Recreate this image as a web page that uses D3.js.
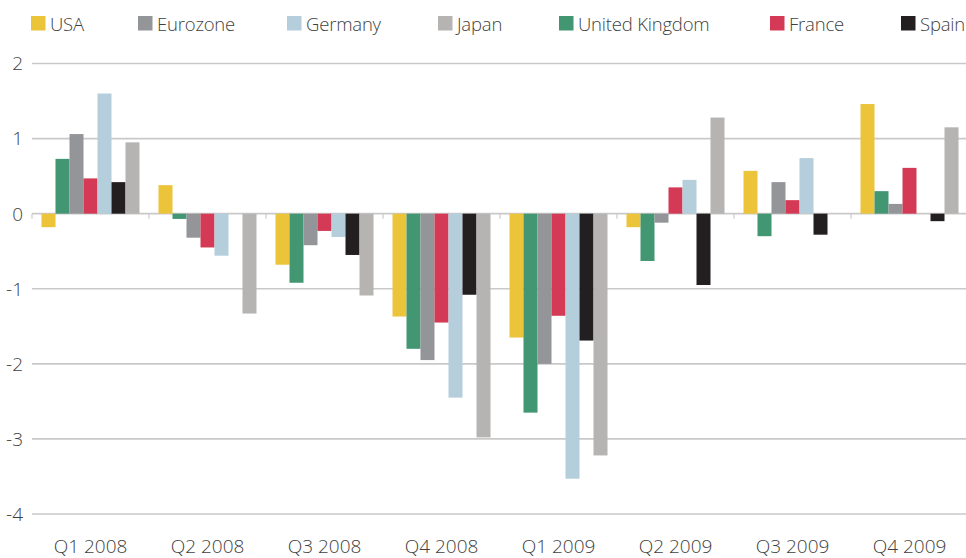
<!DOCTYPE html>
<html>
<head>
<meta charset="utf-8">
<script src="https://cdn.jsdelivr.net/npm/d3@7"></script>
<style>
  html, body { margin: 0; padding: 0; background: #fff; }
  svg { display: block; font-family: "Open Sans", "Noto Sans", sans-serif; }
  .lbl { fill: #3f3f41; font-size: 19px; font-weight: 300; }
  .legend-lbl { fill: #3f3f41; font-size: 18.5px; font-weight: 300; letter-spacing: -0.2px; }
</style>
</head>
<body>
<svg id="chart" width="966" height="558"></svg>
<script>
// Quarterly GDP growth (% q/q) by economy
const quarters = ["Q1 2008", "Q2 2008", "Q3 2008", "Q4 2008", "Q1 2009", "Q2 2009", "Q3 2009", "Q4 2009"];

// bar order inside each quarter
const barOrder = ["USA", "United Kingdom", "Eurozone", "France", "Germany", "Spain", "Japan"];
// legend order
const legendOrder = ["USA", "Eurozone", "Germany", "Japan", "United Kingdom", "France", "Spain"];

const usa      = [-0.18,  0.38, -0.68, -1.37, -1.65, -0.18,  0.57,  1.46];
const uk       = [ 0.73, -0.07, -0.92, -1.80, -2.65, -0.63, -0.30,  0.30];
const eurozone = [ 1.06, -0.32, -0.42, -1.95, -2.00, -0.12,  0.42,  0.13];
const france   = [ 0.47, -0.45, -0.23, -1.45, -1.36,  0.35,  0.18,  0.61];
const germany  = [ 1.60, -0.56, -0.31, -2.45, -3.53,  0.45,  0.74,  0.00];
const spain    = [ 0.42,  0.00, -0.55, -1.08, -1.69, -0.95, -0.28, -0.10];
const japan    = [ 0.95, -1.33, -1.09, -2.98, -3.22,  1.28,  0.00,  1.15];

const yTicks = [2, 1, 0, -1, -2, -3, -4];

const seriesValues = {
  "USA": usa, "United Kingdom": uk, "Eurozone": eurozone, "France": france,
  "Germany": germany, "Spain": spain, "Japan": japan
};
const colors = {
  "USA": "#ecc43a", "Eurozone": "#939598", "Germany": "#b5cedc", "Japan": "#b5b4b2",
  "United Kingdom": "#429672", "France": "#d43a55", "Spain": "#231f20"
};

const svg = d3.select("#chart");
const left = 32, right = 968;

const x0 = d3.scaleBand().domain(quarters).range([left, right]).padding(0);
const x1 = d3.scaleBand().domain(barOrder).range([9.5, x0.bandwidth() - 9.5]).padding(0);
const y = d3.scaleLinear().domain([-4, 2]).range([514, 63.5]);

// horizontal gridlines
svg.append("g").selectAll("line").data(yTicks).join("line")
  .attr("x1", left).attr("x2", 966)
  .attr("y1", d => y(d)).attr("y2", d => y(d))
  .attr("stroke", "#c9c9c9").attr("stroke-width", 1.6);

// y labels
svg.append("g").selectAll("text").data(yTicks).join("text")
  .attr("class", "lbl")
  .attr("x", 23).attr("y", d => y(d))
  .attr("dy", "0.36em")
  .attr("text-anchor", "end")
  .text(d => d < 0 ? "-" + Math.abs(d) : d);

// bars
const rows = [];
quarters.forEach((q, i) => barOrder.forEach(s => rows.push({ q, s, v: seriesValues[s][i] })));
svg.append("g").selectAll("rect").data(rows.filter(d => d.v !== 0)).join("rect")
  .attr("x", d => x0(d.q) + x1(d.s))
  .attr("width", x1.bandwidth())
  .attr("y", d => y(Math.max(0, d.v)))
  .attr("height", d => Math.abs(y(d.v) - y(0)))
  .attr("fill", d => colors[d.s]);

// category ticks on the zero line
svg.append("g").selectAll("line").data(quarters).join("line")
  .attr("x1", d => x0(d)).attr("x2", d => x0(d))
  .attr("y1", y(0)).attr("y2", y(0) + 5)
  .attr("stroke", "#c9c9c9").attr("stroke-width", 1.2);

// x labels
svg.append("g").selectAll("text").data(quarters).join("text")
  .attr("class", "lbl")
  .attr("x", d => x0(d) + x0.bandwidth() / 2)
  .attr("y", 553)
  .attr("text-anchor", "middle")
  .text(d => d);

// legend
const legendX = [31, 138, 287, 438, 559, 770, 901];
const lg = svg.append("g").selectAll("g").data(legendOrder).join("g")
  .attr("transform", (d, i) => `translate(${legendX[i]},16)`);
lg.append("rect").attr("width", 14.5).attr("height", 14.5).attr("fill", d => colors[d]);
lg.append("text").attr("class", "legend-lbl").attr("x", 19).attr("y", 14.5).text(d => d);
</script>
</body>
</html>
